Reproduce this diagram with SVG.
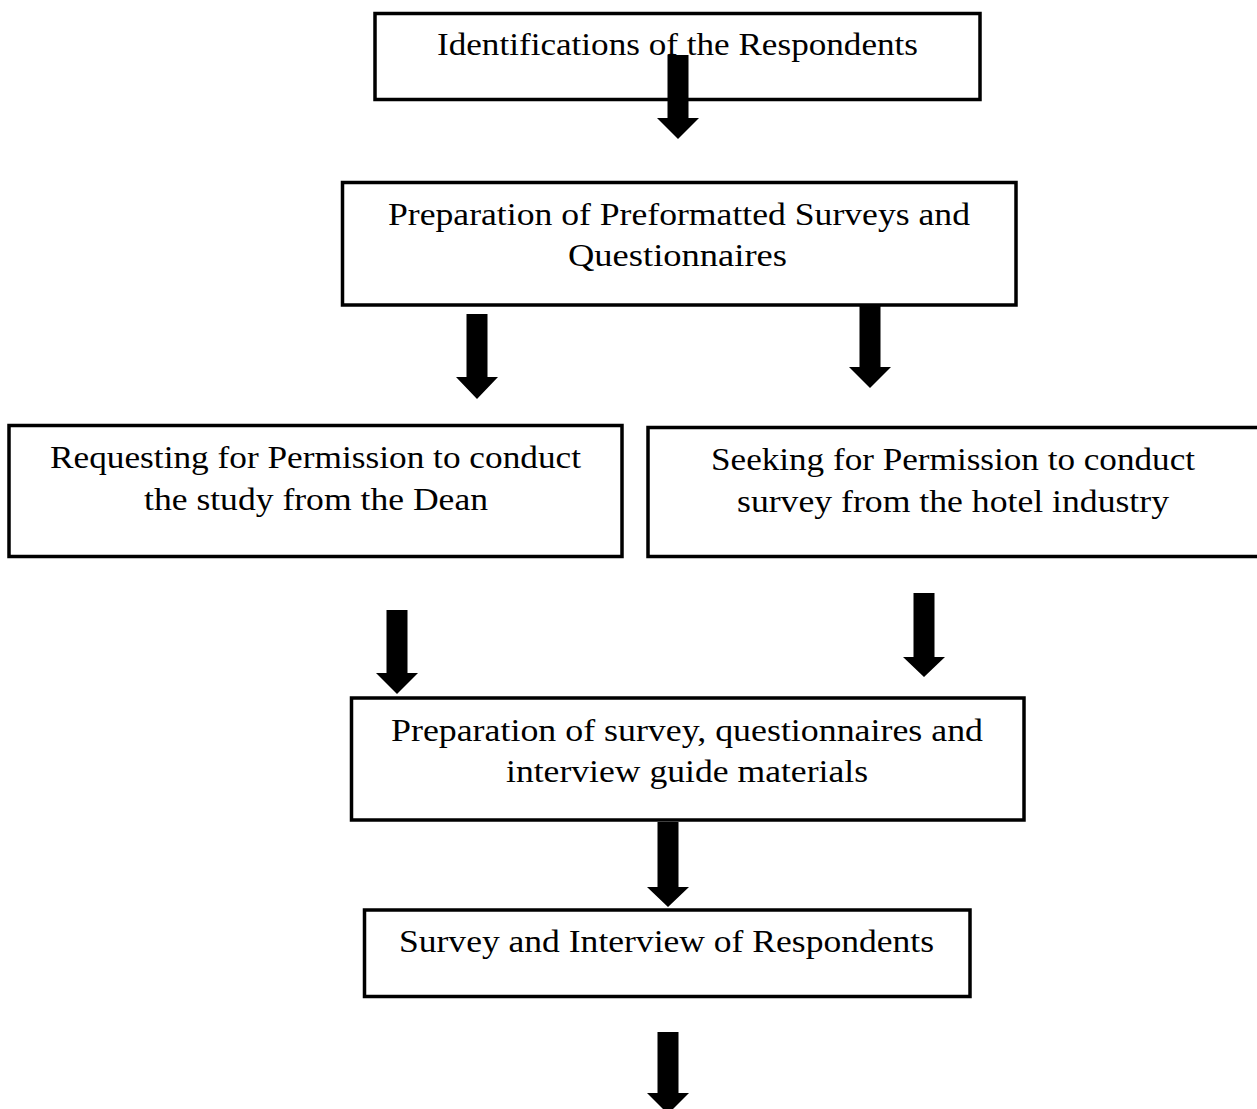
<svg xmlns="http://www.w3.org/2000/svg" width="1257" height="1109" viewBox="0 0 1257 1109">
<style>
.box{fill:#fff;stroke:#000;stroke-width:3.5}
.lbl{font-family:"Liberation Serif","DejaVu Serif",serif;font-size:32.5px;fill:#000;text-anchor:middle}
.arr{fill:#000;stroke:none}
</style>
<rect width="1257" height="1109" fill="#fff"/>
<g id="n1">
<rect class="box" x="375" y="13.5" width="605" height="86"/>
<text class="lbl" x="677.5" y="55" textLength="481" lengthAdjust="spacingAndGlyphs">Identifications of the Respondents</text>
</g>
<g id="n2">
<rect class="box" x="342.5" y="182.5" width="673.5" height="122.5"/>
<text class="lbl" x="679" y="225" textLength="582" lengthAdjust="spacingAndGlyphs">Preparation of Preformatted Surveys and</text>
<text class="lbl" x="677.5" y="266" textLength="219" lengthAdjust="spacingAndGlyphs">Questionnaires</text>
</g>
<g id="n3">
<rect class="box" x="9" y="425.5" width="613" height="131"/>
<text class="lbl" x="315.5" y="468" textLength="531" lengthAdjust="spacingAndGlyphs">Requesting for Permission to conduct</text>
<text class="lbl" x="316" y="510" textLength="344" lengthAdjust="spacingAndGlyphs">the study from the Dean</text>
</g>
<g id="n4">
<rect class="box" x="648" y="427.5" width="620" height="129"/>
<text class="lbl" x="953" y="470" textLength="484" lengthAdjust="spacingAndGlyphs">Seeking for Permission to conduct</text>
<text class="lbl" x="953" y="512" textLength="432" lengthAdjust="spacingAndGlyphs">survey from the hotel industry</text>
</g>
<g id="n5">
<rect class="box" x="351.5" y="698" width="672.5" height="122"/>
<text class="lbl" x="687" y="741" textLength="592" lengthAdjust="spacingAndGlyphs">Preparation of survey, questionnaires and</text>
<text class="lbl" x="687" y="782" textLength="362" lengthAdjust="spacingAndGlyphs">interview guide materials</text>
</g>
<g id="n6">
<rect class="box" x="364.5" y="910" width="605.5" height="86.5"/>
<text class="lbl" x="666.5" y="952" textLength="535" lengthAdjust="spacingAndGlyphs">Survey and Interview of Respondents</text>
</g>
<g id="connectors">
<path class="arr" d="M667.5 55H688.5V118H699L678 139L657 118H667.5Z"/>
<path class="arr" d="M466.5 314H487.5V377H498L477 399L456 377H466.5Z"/>
<path class="arr" d="M859.5 306H880.5V367H891L870 388L849 367H859.5Z"/>
<path class="arr" d="M386.5 610H407.5V673H418L397 694L376 673H386.5Z"/>
<path class="arr" d="M913.5 593H934.5V657H945L924 677L903 657H913.5Z"/>
<path class="arr" d="M657.5 822H678.5V887H689L668 907L647 887H657.5Z"/>
<path class="arr" d="M657.5 1032H678.5V1093H689L668 1114L647 1093H657.5Z"/>
</g>
</svg>
